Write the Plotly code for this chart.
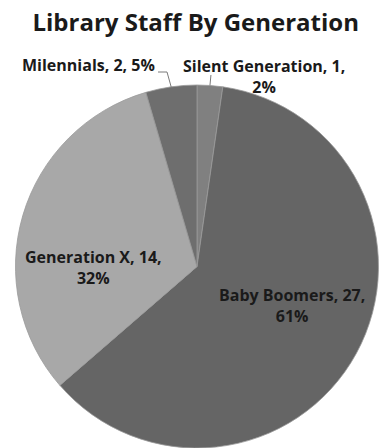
import math
import plotly.graph_objects as go

categories = ["Silent Generation", "Baby Boomers", "Generation X", "Milennials"]
counts = [1, 27, 14, 2]
percents = ["2%", "61%", "32%", "5%"]
colors = ["#808080", "#656565", "#a8a8a8", "#6e6e6e"]

W, H = 380, 448
CX, CY, R = 197, 266.5, 181.5  # pixel geometry of the pie

x0 = (CX - R) / W
x1 = (CX + R) / W
y1 = 1 - (CY - R) / H
y0 = 1 - (CY + R) / H
y0 = max(0.0, y0)

fig = go.Figure(go.Pie(
    labels=categories,
    values=counts,
    sort=False,
    direction="clockwise",
    rotation=0,
    marker=dict(colors=colors, line=dict(color="#9a9a9a", width=0.8)),
    textinfo="none",
    hoverinfo="label+value+percent",
    showlegend=False,
    domain=dict(x=[x0, x1], y=[y0, y1]),
))

font_family = "'Open Sans', Lato, sans-serif"

def px(x):
    return x / W

def py(y):
    return 1 - y / H

total = sum(counts)
mid_angles = []
acc = 0
for v in counts:
    mid_angles.append((acc + v / 2) / total * 2 * math.pi)
    acc += v

def edge_point(i):
    a = mid_angles[i]
    return CX + R * math.sin(a), CY - R * math.cos(a)

LBL = 16
annotations = []
# Inside labels
label_pos = {1: (292, 305), 2: (93, 267)}
for i, (lx, ly) in label_pos.items():
    annotations.append(dict(
        x=px(lx), y=py(ly), xref="paper", yref="paper",
        text=f"<b>{categories[i]}, {counts[i]},<br>{percents[i]}</b>",
        showarrow=False, xanchor="center", yanchor="middle",
        font=dict(family=font_family, size=LBL, color="#1a1a1a"),
    ))

# Outside labels
annotations.append(dict(
    x=px(264), y=py(76), xref="paper", yref="paper",
    text=f"<b>{categories[0]}, {counts[0]},<br>{percents[0]}</b>",
    showarrow=False, xanchor="center", yanchor="middle",
    font=dict(family=font_family, size=LBL, color="#1a1a1a"),
))
annotations.append(dict(
    x=px(88), y=py(65), xref="paper", yref="paper",
    text=f"<b>{categories[3]}, {counts[3]}, {percents[3]}</b>",
    showarrow=False, xanchor="center", yanchor="middle",
    font=dict(family=font_family, size=LBL, color="#1a1a1a"),
))

shapes = []
# Leader line: Silent Generation
ex, ey = edge_point(0)
shapes.append(dict(type="line", xref="paper", yref="paper",
                   x0=px(ex + 1), y0=py(75), x1=px(ex), y1=py(ey),
                   line=dict(color="#7a7a7a", width=1)))
# Leader line: Milennials
ex, ey = edge_point(3)
shapes.append(dict(type="path", xref="paper", yref="paper",
                   path=f"M {px(158)} {py(72)} L {px(167)} {py(72)} L {px(ex)} {py(ey)}",
                   line=dict(color="#7a7a7a", width=1)))

fig.update_layout(
    width=W, height=H,
    margin=dict(l=0, r=0, t=0, b=0),
    paper_bgcolor="white",
    plot_bgcolor="white",
    title=dict(text="<b>Library Staff By Generation</b>", x=0.515, xanchor="center",
               y=1 - 23 / H, yanchor="middle",
               font=dict(family=font_family, size=24, color="#1a1a1a")),
    annotations=annotations,
    shapes=shapes,
)

fig.write_html("out.html")
